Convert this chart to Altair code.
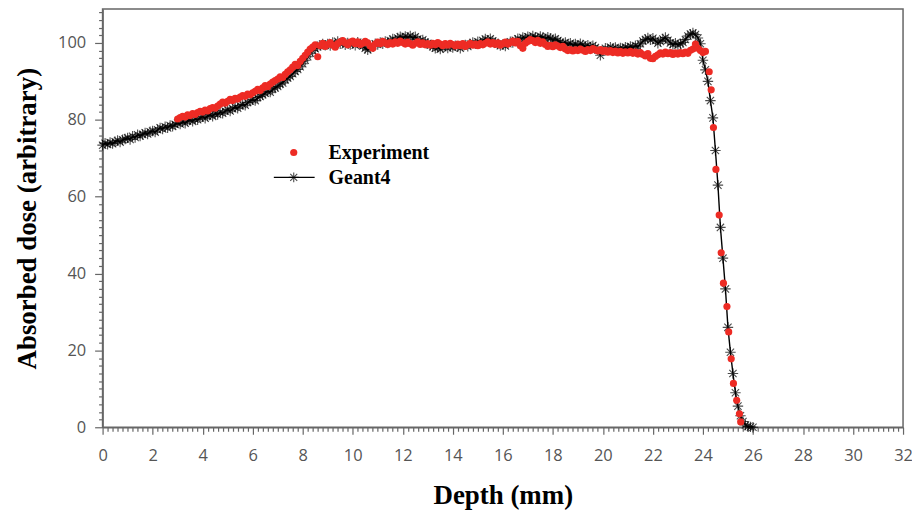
import numpy as np
import pandas as pd
import altair as alt

# ---------------- data ----------------
# Geant4: depth 0.0 .. 26.0 mm, step 0.1 mm
g_depth = np.round(np.arange(0.0, 26.05, 0.1), 1)
g_dose = [
    73.4, 73.9, 73.6, 74.1, 73.8, 74.3, 74.6, 74.2, 74.8, 75.0,
    75.3, 74.9, 75.7, 75.4, 76.1, 75.8, 76.2, 76.6, 76.3, 76.9,
    77.1, 76.8, 77.4, 77.9, 77.6, 78.2, 77.9, 78.5, 78.3, 78.8,
    79.2, 78.9, 79.5, 79.1, 79.7, 80.0, 79.6, 80.2, 80.0, 80.5,
    80.8, 80.4, 81.0, 81.3, 80.9, 81.6, 81.4, 82.0, 81.7, 82.3,
    82.6, 82.3, 82.9, 83.3, 83.0, 83.7, 84.0, 83.8, 84.5, 84.9,
    85.2, 85.0, 85.8, 86.1, 86.5, 86.9, 87.4, 87.2, 88.0, 88.3,
    88.7, 89.3, 89.6, 90.4, 90.9, 91.3, 92.0, 92.6, 93.1, 93.8,
    94.6, 95.5, 96.4, 97.3, 98.0, 98.5, 99.0, 99.3, 99.7, 99.4,
    99.7, 99.3, 100.1, 99.6, 100.4, 99.8, 100.2, 99.5, 100.0, 99.6,
    99.9, 99.4, 100.2, 99.7, 99.2, 98.6, 98.2, 98.7, 99.3, 99.8,
    99.6, 100.1, 99.8, 100.4, 100.0, 100.6, 101.0, 100.7, 101.3, 101.6,
    101.2, 101.7, 101.4, 101.8, 101.3, 101.6, 101.0, 100.5, 100.8, 100.2,
    99.9, 99.4, 99.0, 98.6, 98.9, 98.4, 98.8, 99.2, 98.7, 99.1,
    98.8, 99.3, 99.0, 98.6, 99.2, 99.5, 99.1, 99.7, 100.1, 99.8,
    100.3, 100.0, 100.6, 101.0, 100.7, 101.1, 100.5, 100.1, 99.7, 99.3,
    99.6, 99.2, 99.8, 100.3, 100.1, 100.7, 101.1, 100.8, 101.4, 101.2,
    101.6, 101.3, 101.8, 101.5, 101.1, 101.7, 101.4, 101.0, 101.5, 101.2,
    100.8, 101.1, 100.6, 100.2, 99.8, 100.1, 99.6, 99.9, 99.4, 99.7,
    99.3, 99.8, 99.5, 99.0, 99.4, 98.9, 99.3, 98.8, 98.2, 96.8,
    97.9, 98.6, 98.3, 98.9, 98.5, 98.8, 98.2, 98.7, 98.4, 98.9,
    98.6, 99.1, 98.7, 99.3, 99.0, 99.8, 100.5, 100.9, 101.3, 100.8,
    101.2, 100.6, 99.9, 100.4, 101.0, 101.4, 100.7, 100.0, 99.6, 99.9,
    99.5, 99.8, 100.1, 100.9, 101.8, 102.3, 102.6, 102.2, 101.3, 99.8,
    95.5, 93.0, 90.0, 85.0, 80.5, 72.0, 63.0, 52.0, 44.0, 36.0,
    26.0, 19.5, 14.0, 9.0, 5.5, 3.0, 1.5, 0.6, 0.2, 0.1,
    0.0,
]

# Experiment: depth 3.0 .. 24.1 mm, step 0.1 mm, then distal fall-off points
e_depth_plateau = np.round(np.arange(3.0, 24.15, 0.1), 1)
e_dose_plateau = [
    80.2, 80.6, 80.9, 80.7, 81.3, 81.1, 81.6, 81.4, 81.9, 82.2,
    82.0, 82.5, 82.3, 82.9, 83.2, 83.0, 83.6, 84.1, 84.6, 84.3,
    84.8, 85.3, 85.0, 85.6, 85.4, 85.9, 86.3, 86.1, 86.7, 86.5,
    87.0, 87.4, 87.9, 87.6, 88.3, 88.9, 88.6, 89.3, 89.8, 90.2,
    90.6, 91.2, 91.0, 91.8, 92.5, 93.0, 93.7, 94.4, 94.1, 95.2,
    96.0, 96.8, 97.6, 98.4, 98.9, 99.5, 96.4, 99.3, 99.9, 99.1,
    99.6, 100.1, 99.4, 98.9, 99.8, 100.3, 100.6, 100.0, 99.5, 100.2,
    100.5, 99.8, 100.3, 99.6, 99.9, 100.4, 100.0, 99.2, 98.6, 99.7,
    100.2, 99.8, 100.4, 100.0, 99.6, 100.1, 99.7, 100.3, 99.9, 100.5,
    100.1, 99.7, 100.2, 99.8, 99.4, 99.9, 100.3, 99.6, 100.0, 99.5,
    99.8, 99.4, 99.9, 99.5, 100.1, 99.7, 99.3, 99.8, 99.4, 99.9,
    99.6, 99.2, 99.7, 99.3, 99.8, 99.1, 99.5, 99.9, 99.4, 99.7,
    99.3, 99.8, 99.5, 99.9, 100.3, 99.7, 100.1, 99.6, 100.0, 99.4,
    99.8, 100.2, 99.7, 100.1, 100.5, 100.0, 100.4, 99.3, 98.6, 99.9,
    100.4, 100.9, 100.6, 100.1, 100.7, 99.9, 100.3, 99.6, 99.1, 99.4,
    99.0, 99.5, 99.2, 98.8, 99.1, 98.4, 98.0, 98.3, 97.9, 98.2,
    98.0, 98.4, 98.1, 97.8, 98.3, 98.0, 98.5, 98.2, 97.9, 98.3,
    97.8, 98.1, 97.6, 98.0, 97.5, 97.9, 97.4, 97.8, 97.3, 97.7,
    97.4, 97.8, 97.3, 97.6, 97.1, 97.5, 97.0, 96.6, 97.2, 96.0,
    95.9, 96.5, 96.9, 97.4, 97.1, 97.6, 97.2, 97.5, 97.0, 97.4,
    97.1, 97.5, 97.2, 97.6, 97.3, 98.1, 98.4, 99.7, 98.6, 98.0,
    97.5, 97.8,
]
e_depth_falloff = [24.25, 24.33, 24.42, 24.52, 24.65, 24.73, 24.82,
                   24.96, 25.03, 25.13, 25.22, 25.35, 25.46, 25.51]
e_dose_falloff = [92.5, 87.8, 78.0, 67.1, 55.2, 45.4, 37.5,
                  31.4, 24.8, 17.8, 11.4, 7.0, 3.5, 1.4]

legend_labels = ["Experiment", "Geant4"]

geant = pd.DataFrame({"depth": g_depth, "dose": g_dose})
expt = pd.DataFrame({
    "depth": list(e_depth_plateau) + e_depth_falloff,
    "dose": e_dose_plateau + e_dose_falloff,
})

# ---------------- styling ----------------
RED = "#ed2b24"
STAR = "M-1,0L1,0M0,-1L0,1M-0.7,-0.7L0.7,0.7M-0.7,0.7L0.7,-0.7"
AXIS_GREY = "#666666"
LABEL_GREY = "#555555"
SERIF = "Liberation Serif"
SANS = "Open Sans"

x_ticks = [round(i * 0.2, 1) for i in range(161)]
y_ticks = list(range(0, 109, 2))

x_scale = alt.Scale(domain=[0, 32], nice=False, zero=False)
y_scale = alt.Scale(domain=[0, 108.8], nice=False)

x_axis = alt.Axis(
    title="Depth (mm)", values=x_ticks, grid=False,
    labelExpr="abs(datum.value - round(datum.value/2)*2) < 0.001 ? format(datum.value, 'd') : ''",
    labelOverlap=False, labelFlush=False,
    tickSize={"condition": {"test": "abs(datum.value - round(datum.value/2)*2) >= 0.001", "value": 4}, "value": 7},
    labelPadding=13, labelFont=SANS, labelFontSize=16.5, labelColor=LABEL_GREY,
    titleFont=SERIF, titleFontSize=27, titleFontWeight="bold", titleColor="black",
    titleBaseline="alphabetic", titleY=77,
    domainColor=AXIS_GREY, domainWidth=1.5, tickColor=AXIS_GREY, tickWidth=1.2,
)
y_axis = alt.Axis(
    title="Absorbed dose (arbitrary)", values=y_ticks, grid=False,
    labelExpr="datum.value % 20 === 0 ? datum.label : ''",
    labelOverlap=False, labelFlush=False,
    tickSize={"condition": {"test": "datum.value % 20 !== 0", "value": 4}, "value": 8},
    labelPadding=9, labelFont=SANS, labelFontSize=16.5, labelColor=LABEL_GREY,
    titleFont=SERIF, titleFontSize=27, titleFontWeight="bold", titleColor="black",
    titleBaseline="alphabetic", titleX=-67,
    domainColor=AXIS_GREY, domainWidth=1.5, tickColor=AXIS_GREY, tickWidth=1.2,
)

X = alt.X("depth:Q", scale=x_scale, axis=x_axis)
Y = alt.Y("dose:Q", scale=y_scale, axis=y_axis)

g_line = alt.Chart(geant).mark_line(color="black", strokeWidth=1.4).encode(x=X, y=Y)
g_pts = alt.Chart(geant).mark_point(
    shape=STAR, filled=False, stroke="black", strokeWidth=1.1, size=110, opacity=0.7
).encode(x=X, y=Y)
e_pts = alt.Chart(expt).mark_circle(color=RED, size=52, opacity=1).encode(x=X, y=Y)

# legend (drawn inside the plot, as in the original)
leg_df = pd.DataFrame({"label": legend_labels})
exp_df = leg_df[leg_df["label"] == "Experiment"]
g4_df = leg_df[leg_df["label"] == "Geant4"]

leg_dot = alt.Chart(exp_df).mark_circle(color=RED, size=52, opacity=1).encode(
    x=alt.value(192), y=alt.value(144))
leg_line = alt.Chart(g4_df).mark_rule(color="black", strokeWidth=1.4).encode(
    x=alt.value(172), x2=alt.value(213), y=alt.value(169))
leg_star = alt.Chart(g4_df).mark_point(
    shape=STAR, filled=False, stroke="black", strokeWidth=1.1, size=100
).encode(x=alt.value(192), y=alt.value(169))
txt_kw = dict(font=SERIF, fontSize=20, fontWeight="bold", align="left",
              baseline="middle", color="black")
leg_text1 = alt.Chart(exp_df).mark_text(**txt_kw).encode(
    x=alt.value(227), y=alt.value(144.5), text="label:N")
leg_text2 = alt.Chart(g4_df).mark_text(**txt_kw).encode(
    x=alt.value(227), y=alt.value(169.5), text="label:N")

chart = alt.layer(
    g_line, g_pts, e_pts, leg_line, leg_star, leg_dot, leg_text1, leg_text2
).properties(
    width=804, height=420,
    autosize=alt.AutoSizeParams(type="none"),
    padding={"left": 95, "top": 0, "right": 9, "bottom": 87},
    background="white",
).configure_view(stroke=AXIS_GREY, strokeWidth=1.5)

chart.save("out.html", embed_options={"renderer": "svg", "actions": False})
